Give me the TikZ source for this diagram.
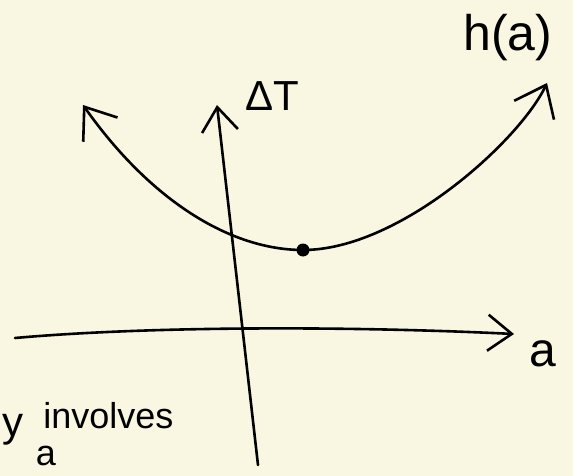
\documentclass[tikz,border=0pt]{standalone}
\usepackage{fontspec}
\setmainfont{Liberation Sans}
\usetikzlibrary{arrows.meta}
\definecolor{paper}{RGB}{249,247,226}

\begin{document}
\begin{tikzpicture}[
  x=1pt, y=-1pt, line width=2.6pt, line cap=round, line join=round,
  axis/.style={-{Straight Barb[length=24pt,width=36pt]}},
  branch/.style={{Straight Barb[length=28pt,width=42pt]}-{Straight Barb[length=28pt,width=44pt]}},
  lbl/.style={inner sep=0pt},
  mark point/.style={circle, fill, inner sep=0pt, minimum size=13pt}
]
\fill[paper] (0,0) rectangle (573,476);
\useasboundingbox (0,0) rectangle (573,476);

% axes
\coordinate (xstart) at (15,338);
\coordinate (xend) at (514,334);
\coordinate (ystart) at (258,465);
\coordinate (yend) at (217,105);
\draw[axis] (xstart) .. controls (150,326) and (350,326) .. (xend);
\draw[axis] (ystart) -- (yend);

% h(a)
\coordinate (lefttip) at (83,105);
\coordinate (righttip) at (547,83);
\node[mark point] (minpt) at (303,250) {};
\draw[branch] (lefttip) .. controls (150,200) and (230,250) .. (minpt.center)
  .. controls (400,250) and (520,140) .. (righttip);

% labels
\node[lbl, font=\fontsize{50}{50}\selectfont] (hlabel) at (508,38) {h(a)};
\node[lbl, font=\fontsize{42}{42}\selectfont] (dTlabel) at (272,96) {ΔT};
\node[lbl, font=\fontsize{48}{48}\selectfont] (alabel) at (543,354) {a};
\node[lbl, font=\fontsize{42}{42}\selectfont, anchor=west] (ylabel) at (1,430) {y};
\node[lbl, font=\fontsize{36}{36}\selectfont, anchor=west] (invlabel) at (42,416) {involves};
\node[lbl, font=\fontsize{36}{36}\selectfont] (sublabel) at (46,456) {a};
\end{tikzpicture}
\end{document}
